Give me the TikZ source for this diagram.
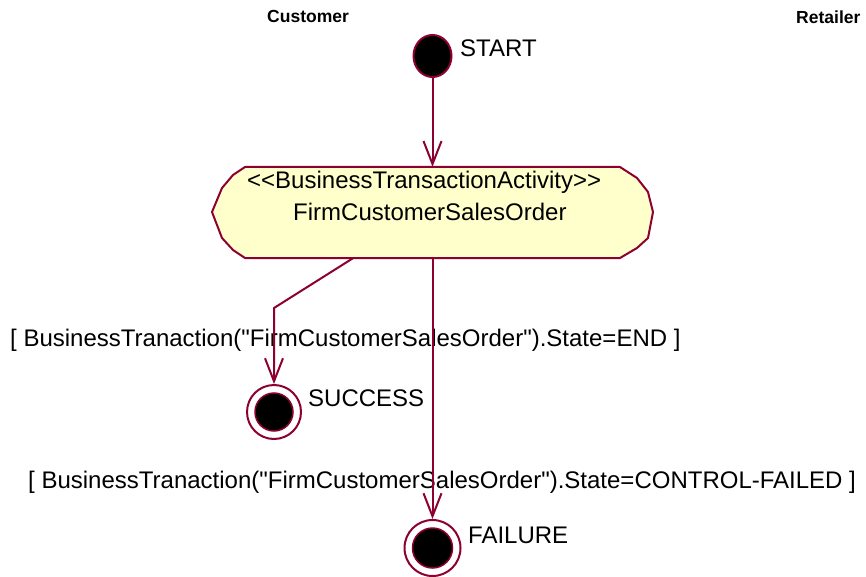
\documentclass[tikz,border=0pt]{standalone}
\usepackage{fontspec}
\setmainfont{Liberation Sans}[Ligatures=TeXOff]
\usetikzlibrary{arrows.meta,shapes.geometric}
\definecolor{edgecol}{RGB}{140,0,50}
\definecolor{actfill}{RGB}{255,255,204}
\tikzset{
  lbl/.style={anchor=base west, inner sep=0pt, font=\fontsize{24}{28}\selectfont},
  hdr/.style={anchor=base west, inner sep=0pt, font=\fontsize{17.5}{20}\selectfont\bfseries},
  flow/.style={draw=edgecol, line width=2pt, -{Straight Barb[length=23pt,width=18pt,line width=2pt]}},
  actshape/.style={draw=edgecol, line width=2pt, fill=actfill, line join=round},
  startdot/.style={ellipse, draw=edgecol, line width=2pt, fill=black, minimum width=38pt, minimum height=42pt, inner sep=0pt},
  endring/.style={circle, draw=edgecol, line width=2pt, fill=white, inner sep=0pt},
  enddot/.style={circle, draw=edgecol, line width=1.5pt, fill=black, inner sep=0pt}
}
\begin{document}
\begin{tikzpicture}[x=1pt,y=-1pt]
\useasboundingbox (0,0) rectangle (866,577);
% headers
\node[hdr] (hcust) at (267,23) {Customer};
\node[hdr] (hret) at (796,24) {Retailer};
% start
\node[startdot] (start) at (432.5,56) {};
\node[lbl] (startlbl) at (460,56.7) {START};
% activity
\draw[actshape] (245,167) -- (620,167) -- (637,178) -- (648,192) -- (653,212) -- (648,238) -- (637,248) -- (620,258) -- (245,258) -- (233,250) -- (222,238) -- (212,212) -- (222,188) -- (233,175) -- cycle;
\node[rectangle, minimum width=441pt, minimum height=91pt, inner sep=0pt] (act) at (432.5,212.5) {};
\node[lbl] (stereo) at (247,189) {<<BusinessTransactionActivity>>};
\node[lbl] (actname) at (293,220) {FirmCustomerSalesOrder};
% success
\node[endring, minimum size=54pt] (success) at (274,412) {};
\node[enddot, minimum size=38pt] (successdot) at (success.center) {};
\node[lbl] (successlbl) at (308,406) {SUCCESS};
% failure
\node[endring, minimum size=56pt] (failure) at (432.5,548) {};
\node[enddot, minimum size=40pt] (failuredot) at (failure.center) {};
\node[lbl] (failurelbl) at (468,543) {FAILURE};
% guards
\node[lbl] (guard1) at (10,346) {[ BusinessTranaction("FirmCustomerSalesOrder").State=END ]};
\node[lbl] (guard2) at (28,488) {[ BusinessTranaction("FirmCustomerSalesOrder").State=CONTROL-FAILED ]};
% connectors
\coordinate (bend) at (274,308);
\draw[flow] (start) -- (act.north);
\draw[flow] ([xshift=-79.5pt]act.south) -- (bend) -- (success.north);
\draw[flow] (act.south) -- (failure.north);
\end{tikzpicture}
\end{document}
